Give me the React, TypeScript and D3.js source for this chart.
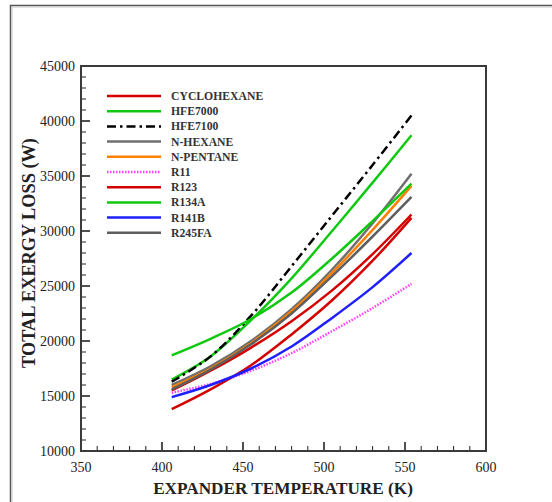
import React from "react";
import * as d3 from "d3";

const temps = [406, 430, 455, 480, 505, 530, 554];

const names = ["CYCLOHEXANE", "HFE7000", "HFE7100", "N-HEXANE", "N-PENTANE", "R11", "R123", "R134A", "R141B", "R245FA"];

const cyclohexane = [15500, 17300, 19400, 21800, 24600, 27900, 31500];
const hfe7000 = [16500, 18600, 21900, 25700, 30000, 34400, 38700];
const hfe7100 = [16300, 18600, 22300, 26800, 31400, 36000, 40500];
const nHexane = [16000, 17700, 20000, 22900, 26500, 30700, 35200];
const nPentane = [15800, 17500, 19800, 22700, 26200, 30100, 34100];
const r11 = [15300, 16100, 17300, 18900, 20900, 23000, 25200];
const r123 = [13800, 15600, 17800, 20600, 23700, 27300, 31200];
const r134a = [18700, 20200, 22000, 24400, 27500, 30900, 34300];
const r141b = [14900, 16000, 17500, 19500, 22100, 24900, 28000];
const r245fa = [15600, 17400, 19700, 22500, 25900, 29500, 33100];

const seriesValues = [cyclohexane, hfe7000, hfe7100, nHexane, nPentane, r11, r123, r134a, r141b, r245fa];

const xTicks = [350, 400, 450, 500, 550, 600];
const yTicks = [10000, 15000, 20000, 25000, 30000, 35000, 40000, 45000];

const styles = [
  { color: "#d40000", dash: null },
  { color: "#10c810", dash: null },
  { color: "#000000", dash: "9,4,2.5,4" },
  { color: "#6e6e6e", dash: null },
  { color: "#ff8000", dash: null },
  { color: "#ff40ff", dash: "1.5,1.5" },
  { color: "#d40000", dash: null },
  { color: "#10c810", dash: null },
  { color: "#1e1eff", dash: null },
  { color: "#5e5e5e", dash: null },
];

export default function App() {
  const W = 552, H = 502;
  const x = d3.scaleLinear().domain([350, 600]).range([81, 486]);
  const y = d3.scaleLinear().domain([10000, 45000]).range([451, 66]);
  const line = d3
    .line<[number, number]>()
    .x((d) => x(d[0]))
    .y((d) => y(d[1]))
    .curve(d3.curveCatmullRom.alpha(0.5));

  const xMinor = d3.range(350, 601, 10);
  const yMinor = d3.range(10000, 45001, 1000);
  const serif = "'Liberation Serif', 'Times New Roman', serif";

  return (
    <svg width={W} height={H} style={{ position: "absolute", left: 0, top: 0, background: "#fff" }} fontFamily={serif}>
      <rect x={10.5} y={5.5} width={560} height={520} fill="none" stroke="#555" strokeWidth={1.5} />
      <rect x={12} y={7} width={560} height={520} fill="none" stroke="#c8c8c8" strokeWidth={1} />

      {xMinor.map((t) => {
        const major = t % 50 === 0;
        return (
          <line key={"xm" + t} x1={x(t)} x2={x(t)} y1={451} y2={451 - (major ? 9 : 5)} stroke="#222" strokeWidth={major ? 1.6 : 1} />
        );
      })}
      {yMinor.map((t) => {
        const major = t % 5000 === 0;
        return (
          <line key={"ym" + t} x1={81} x2={81 + (major ? 9 : 5)} y1={y(t)} y2={y(t)} stroke="#222" strokeWidth={major ? 1.6 : 1} />
        );
      })}

      {seriesValues.map((vals, i) => (
        <path
          key={names[i]}
          d={line(temps.map((t, j) => [t, vals[j]] as [number, number])) || ""}
          fill="none"
          stroke={styles[i].color}
          strokeWidth={2.5}
          strokeDasharray={styles[i].dash || undefined}
        />
      ))}

      <rect x={x(350)} y={y(45000)} width={x(600) - x(350)} height={y(10000) - y(45000)} fill="none" stroke="#3a3a3a" strokeWidth={2} />

      {xTicks.map((t) => (
        <text key={"xl" + t} x={x(t)} y={472} textAnchor="middle" fontSize={14} fill="#222">
          {t}
        </text>
      ))}
      {yTicks.map((t) => (
        <text key={"yl" + t} x={75} y={y(t)} dy="0.36em" textAnchor="end" fontSize={14} fill="#222">
          {t}
        </text>
      ))}

      <text x={283} y={494} textAnchor="middle" fontSize={17.2} fontWeight="bold" fill="#222">
        EXPANDER TEMPERATURE (K)
      </text>
      <text transform="translate(35,253) rotate(-90)" textAnchor="middle" fontSize={18.3} fontWeight="bold" fill="#222">
        TOTAL EXERGY LOSS (W)
      </text>

      {names.map((n, i) => {
        const ly = 96 + i * 15.2;
        return (
          <g key={"lg" + n}>
            <line x1={107} x2={161} y1={ly} y2={ly} stroke={styles[i].color} strokeWidth={2.5} strokeDasharray={styles[i].dash || undefined} />
            <text x={171} y={ly + 4} fontSize={11.7} fontWeight="bold" fill="#333">
              {n}
            </text>
          </g>
        );
      })}
    </svg>
  );
}
